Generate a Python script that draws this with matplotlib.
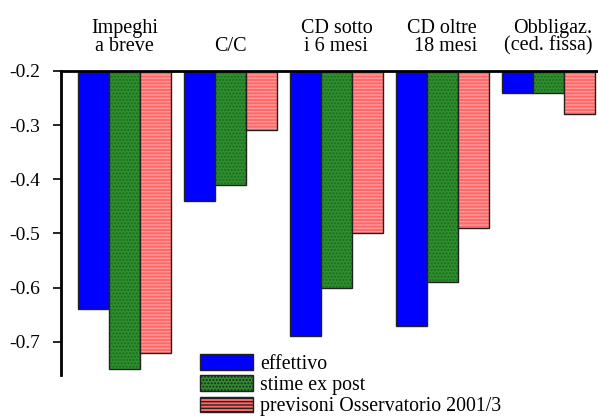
import matplotlib
matplotlib.use('Agg')
import matplotlib.pyplot as plt
import matplotlib.patches as mpatches
import numpy as np

plt.rcParams['font.family'] = ['Liberation Serif', 'DejaVu Serif']
plt.rcParams['hatch.linewidth'] = 1.0

categories = ['Impeghi\na breve', 'C/C', 'CD sotto\ni 6 mesi',
              'CD oltre\n18 mesi', 'Obbligaz.\n(ced. fissa)']
effettivo = [-0.64, -0.44, -0.69, -0.67, -0.24]
stime_ex_post = [-0.75, -0.41, -0.60, -0.59, -0.24]
previsioni = [-0.72, -0.31, -0.50, -0.49, -0.28]
labels = ['effettivo', 'stime ex post', 'previsoni Osservatorio 2001/3']

base = -0.2
fig = plt.figure(figsize=(5.98, 4.17), dpi=100)
ax = fig.add_axes([0.102, 0.101, 0.898, 0.729])

x = np.arange(len(categories))
width = 0.293
series = [effettivo, stime_ex_post, previsioni]
fills = ['#0000ff', '#2f8f2f', '#ff6868']
hatch_cols = [None, '#1c6a1c', '#ff9a9a']
hatches = [None, '.....', '-----']

handles = []
for k, vals in enumerate(series):
    pos = x + (k - 1) * width
    heights = np.array(vals) - base
    if hatches[k]:
        ax.bar(pos, heights, width, bottom=base, color=fills[k],
               edgecolor=hatch_cols[k], hatch=hatches[k], linewidth=0)
    else:
        ax.bar(pos, heights, width, bottom=base, color=fills[k], linewidth=0)
    ax.bar(pos, heights, width, bottom=base, fill=False,
           edgecolor='#222222', linewidth=1.0)
    handles.append(mpatches.Patch(facecolor=fills[k], edgecolor='#222222',
                                  hatch=hatches[k], linewidth=1.0,
                                  label=labels[k]))

ax.set_xlim(-0.6, 4.47)
ax.set_ylim(-0.761, -0.2)
ax.set_yticks([-0.2, -0.3, -0.4, -0.5, -0.6, -0.7])
ax.set_yticklabels(['-0.2', '-0.3', '-0.4', '-0.5', '-0.6', '-0.7'])
ax.tick_params(axis='y', direction='out', length=6, width=1.2,
               labelsize=14, pad=9)
ax.set_xticks([])

ax.spines['bottom'].set_visible(False)
ax.spines['right'].set_visible(False)
ax.spines['left'].set_linewidth(2)
ax.spines['top'].set_linewidth(2)

aligns = ['center', 'center', 'center', 'right', 'right']
for i, cat in enumerate(categories):
    ax.text(x[i], 1.05, cat, transform=ax.get_xaxis_transform(),
            ha='center', va='bottom', fontsize=14.5, linespacing=0.88,
            multialignment=aligns[i])

fig.legend(handles=handles, loc='lower left',
           bbox_to_anchor=(0.312, -0.032), frameon=False,
           fontsize=14.3, handlelength=2.65, handleheight=0.85,
           labelspacing=0.08, handletextpad=0.35, borderpad=0.2)

fig.savefig('out.png', dpi=100)
